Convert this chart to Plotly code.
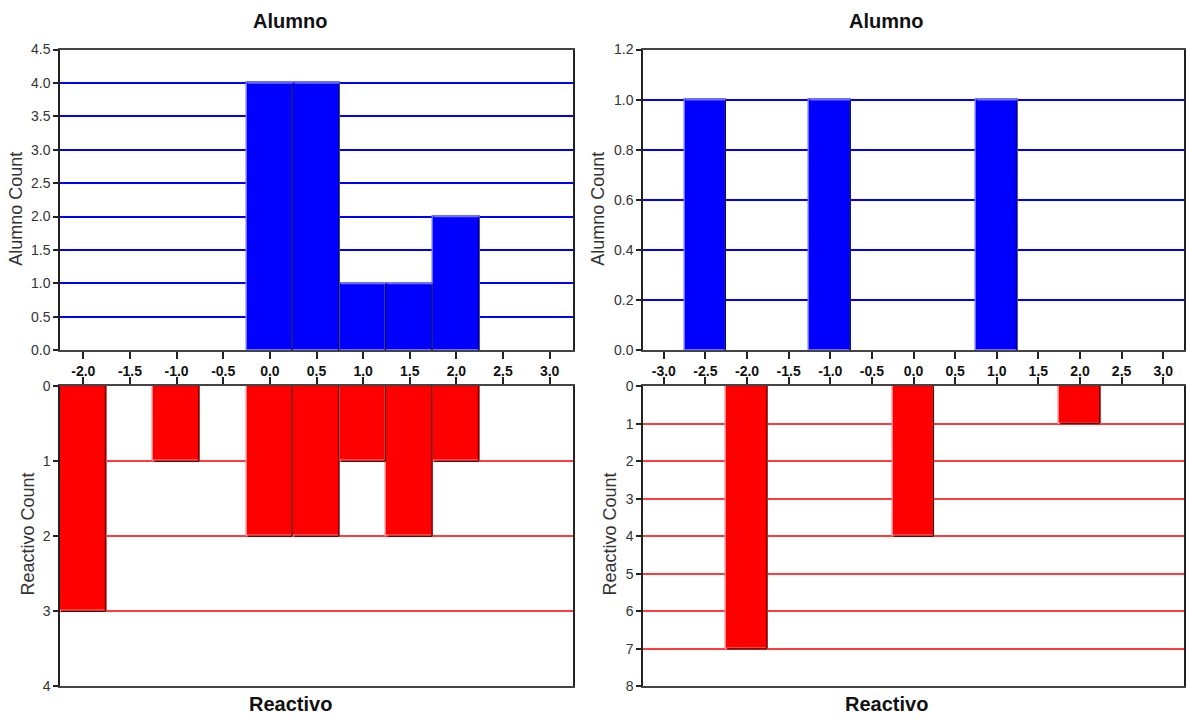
import plotly.graph_objects as go

# ---- data ----
left_alumno_x = [0.0, 0.5, 1.0, 1.5, 2.0]
left_alumno_y = [4, 4, 1, 1, 2]
left_reactivo_x = [-2.0, -1.0, 0.0, 0.5, 1.0, 1.5, 2.0]
left_reactivo_y = [3, 1, 2, 2, 1, 2, 1]

right_alumno_x = [-2.5, -1.0, 1.0]
right_alumno_y = [1, 1, 1]
right_reactivo_x = [-2.0, 0.0, 2.0]
right_reactivo_y = [7, 4, 1]

bin_width = 0.5
left_xticks = [-2.0, -1.5, -1.0, -0.5, 0.0, 0.5, 1.0, 1.5, 2.0, 2.5, 3.0]
right_xticks = [-3.0, -2.5, -2.0, -1.5, -1.0, -0.5, 0.0, 0.5, 1.0, 1.5, 2.0, 2.5, 3.0]

W, H = 1186, 721
FONT = "Liberation Sans, Arial, sans-serif"
BLUE = "#0000FF"
RED = "#FF0000"

# empirical correction for vertical placement in the rendered page
def fix(p):
    return (p - 6.3) / 0.982

def px_x(p):
    return p / W

def px_y(p):
    return (H - fix(p)) / H

fig = go.Figure()

def add_bars(x, y, color, light, dark, xa, ya):
    fig.add_trace(go.Bar(x=x, y=y, width=[bin_width] * len(x),
                         marker=dict(color=color, line=dict(color=light, width=1.5)),
                         xaxis=xa, yaxis=ya, showlegend=False, hoverinfo="x+y"))
    for xv, yv in zip(x, y):
        right = xv + bin_width / 2 - 0.012
        left = xv - bin_width / 2 + 0.012
        fig.add_shape(type="line", xref=xa, yref=ya, x0=right, x1=right, y0=0, y1=yv,
                      line=dict(color=dark, width=1.5), layer="above")
        fig.add_shape(type="line", xref=xa, yref=ya, x0=left, x1=right, y0=yv, y1=yv,
                      line=dict(color=dark if ya in ("y2", "y4") else light, width=1.5),
                      layer="above")

add_bars(left_alumno_x, left_alumno_y, BLUE, "#7070FF", "#000070", "x", "y")
add_bars(left_reactivo_x, left_reactivo_y, RED, "#FF8080", "#700000", "x2", "y2")
add_bars(right_alumno_x, right_alumno_y, BLUE, "#7070FF", "#000070", "x3", "y3")
add_bars(right_reactivo_x, right_reactivo_y, RED, "#FF8080", "#700000", "x4", "y4")

LDOM = [px_x(60), px_x(573)]
RDOM = [px_x(643), px_x(1184)]
TDOM = [px_y(350), px_y(48)]
BDOM = [px_y(687.5), px_y(386)]

def xax(**kw):
    d = dict(showline=True, linecolor="#444", linewidth=2, mirror=True,
             ticks="outside", ticklen=7, tickwidth=1.5, tickcolor="#222",
             zeroline=False, showgrid=False)
    d.update(kw)
    return d

def yax(**kw):
    d = dict(showline=True, linecolor="#222", linewidth=1.5, mirror=True,
             ticks="outside", ticklen=5, tickwidth=1.5, tickcolor="#222",
             zeroline=False, showgrid=True, gridwidth=1.5,
             tickfont=dict(family=FONT, size=14, color="#333"))
    d.update(kw)
    return d

xtickfont = dict(family=FONT, size=14, color="#111", weight="bold")

fig.update_layout(
    width=W, height=H, margin=dict(l=0, r=0, t=0, b=0),
    paper_bgcolor="white", plot_bgcolor="white", bargap=0,
    xaxis=xax(domain=LDOM, range=[-2.25, 3.25], tickvals=left_xticks,
              ticktext=[f"{v:.1f}" for v in left_xticks], tickfont=xtickfont,
              anchor="y"),
    yaxis=yax(domain=TDOM, range=[0, 4.5], dtick=0.5, tickformat=".1f",
              anchor="x", gridcolor=BLUE),
    xaxis2=xax(domain=LDOM, range=[-2.25, 3.25], tickvals=left_xticks,
               showticklabels=False, side="top", anchor="y2", matches="x"),
    yaxis2=yax(domain=BDOM, range=[4, 0], dtick=1, anchor="x2", gridcolor="#FF3B3B"),
    xaxis3=xax(domain=RDOM, range=[-3.25, 3.25], tickvals=right_xticks,
               ticktext=[f"{v:.1f}" for v in right_xticks], tickfont=xtickfont,
               anchor="y3"),
    yaxis3=yax(domain=TDOM, range=[0, 1.2], dtick=0.2, tickformat=".1f",
               anchor="x3", gridcolor=BLUE),
    xaxis4=xax(domain=RDOM, range=[-3.25, 3.25], tickvals=right_xticks,
               showticklabels=False, side="top", anchor="y4", matches="x3"),
    yaxis4=yax(domain=BDOM, range=[8, 0], dtick=1, anchor="x4", gridcolor="#FF3B3B"),
)

def ann(text, xp, yp, size, bold=False, angle=0, color="#111"):
    fig.add_annotation(text=text, x=px_x(xp), y=px_y(yp), xref="paper", yref="paper",
                       showarrow=False, textangle=angle,
                       font=dict(family=FONT, size=size, color=color,
                                 weight="bold" if bold else "normal"),
                       xanchor="center", yanchor="middle")

ann("Alumno", 290, 19, 20, bold=True)
ann("Alumno", 886, 19, 20, bold=True)
ann("Reactivo", 290, 705, 20, bold=True)
ann("Reactivo", 886, 705, 20, bold=True)
ann("Alumno Count", 16, 208, 18, angle=-90, color="#333")
ann("Reactivo Count", 28, 535, 18, angle=-90, color="#333")
ann("Alumno Count", 598, 208, 18, angle=-90, color="#333")
ann("Reactivo Count", 610, 535, 18, angle=-90, color="#333")

fig.write_html("out.html")
